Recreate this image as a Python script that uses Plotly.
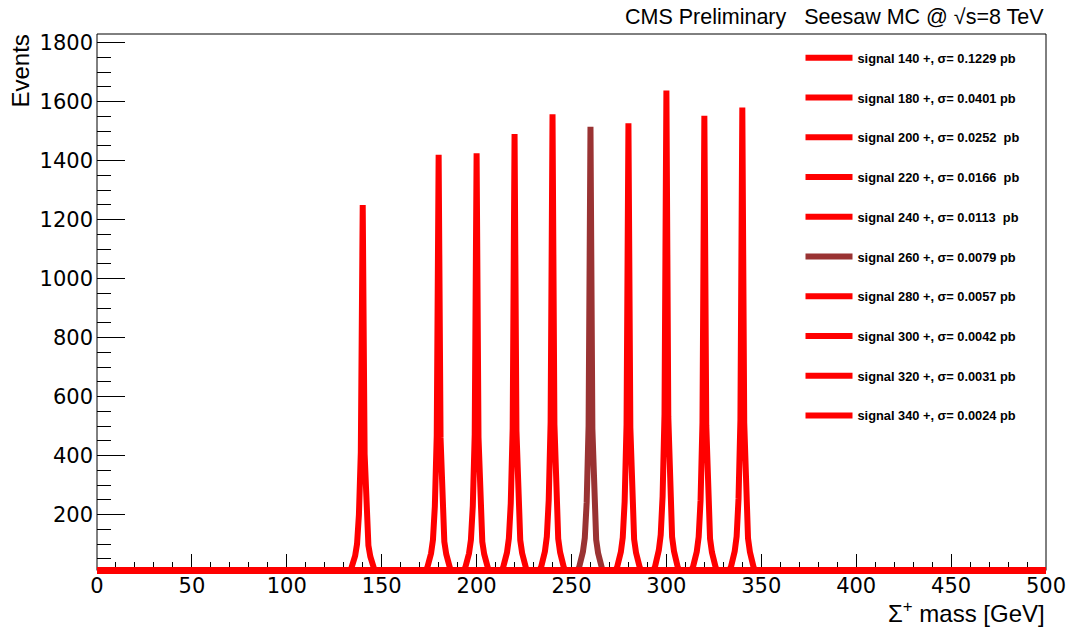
import numpy as np
import plotly.graph_objects as go

# ---------------- data ----------------
MASSES = [140, 180, 200, 220, 240, 260, 280, 300, 320, 340]
LABELS = [
    "signal 140 +, σ= 0.1229 pb",
    "signal 180 +, σ= 0.0401 pb",
    "signal 200 +, σ= 0.0252\u00a0 pb",
    "signal 220 +, σ= 0.0166\u00a0 pb",
    "signal 240 +, σ= 0.0113\u00a0 pb",
    "signal 260 +, σ= 0.0079 pb",
    "signal 280 +, σ= 0.0057 pb",
    "signal 300 +, σ= 0.0042 pb",
    "signal 320 +, σ= 0.0031 pb",
    "signal 340 +, σ= 0.0024 pb",
]
COLORS = ["#ff0000", "#ff0000", "#ff0000", "#ff0000", "#ff0000",
          "#9a3333", "#ff0000", "#ff0000", "#ff0000", "#ff0000"]
# bin offsets (GeV) around each mass point; contents are zero elsewhere
OFFSETS = [-6, -5, -4, -3, -2, -1, 0, 1, 2, 3, 4, 5, 6]
S140 = [18, 35, 60, 100, 200, 412, 1250, 405, 195, 95, 58, 33, 16]
S180 = [20, 40, 68, 114, 228, 468, 1420, 460, 222, 108, 66, 37, 18]
S200 = [20, 40, 68, 114, 229, 470, 1425, 462, 222, 108, 66, 38, 18]
S220 = [21, 42, 71, 119, 238, 492, 1490, 483, 233, 113, 69, 39, 19]
S240 = [22, 44, 75, 125, 249, 514, 1557, 505, 243, 118, 72, 41, 20]
S260 = [21, 42, 73, 121, 242, 500, 1515, 491, 236, 115, 70, 40, 19]
S280 = [21, 43, 73, 122, 244, 504, 1527, 495, 238, 116, 71, 40, 20]
S300 = [23, 46, 79, 131, 262, 540, 1638, 531, 255, 124, 76, 43, 21]
S320 = [22, 43, 74, 124, 248, 512, 1552, 503, 242, 118, 72, 41, 20]
S340 = [22, 44, 76, 126, 253, 521, 1580, 512, 246, 120, 73, 42, 20]
SERIES = [S140, S180, S200, S220, S240, S260, S280, S300, S320, S340]

X_MIN, X_MAX = 0, 500
Y_TICKS = [200, 400, 600, 800, 1000, 1200, 1400, 1600, 1800]
X_TICKS = [0, 50, 100, 150, 200, 250, 300, 350, 400, 450, 500]

# ---------------- layout geometry ----------------
W, H = 1071, 630
ML, MR, MT, MB = 97, 25, 34, 55.5
FRAME_MIN = 10.4   # histogram minimum (frame bottom)
Y_HI = 1829.5
Y_LO = -1.5
FONT = "Liberation Sans, Arial, Helvetica, sans-serif"
TICK_FONT = "DejaVu Sans, Liberation Sans, sans-serif"

pw = W - ML - MR
ph = H - MT - MB


def px_to_paper_x(px):
    return (px - ML) / pw


def px_to_paper_y(py):
    return (H - MB - py) / ph


fig = go.Figure()

bins = np.arange(X_MIN, X_MAX + 1, 1.0)
for m, lab, col, vals in zip(MASSES, LABELS, COLORS, SERIES):
    y = np.zeros_like(bins)
    for o, v in zip(OFFSETS, vals):
        y[int(m + o - X_MIN)] = v
    y_draw = np.maximum(y, FRAME_MIN)  # drawn at histogram minimum like ROOT
    fig.add_trace(go.Scatter(
        x=bins, y=y_draw, mode="lines", name=lab,
        line=dict(color=col, width=6),
        legendgroup=str(m), hoverinfo="skip",
    ))

fig.update_layout(
    width=W, height=H, autosize=False,
    margin=dict(l=ML, r=MR, t=MT, b=MB, pad=0, autoexpand=False),
    paper_bgcolor="white", plot_bgcolor="white",
    font=dict(family=FONT, color="black"),
    showlegend=True,
    legend=dict(
        x=px_to_paper_x(800.5), y=px_to_paper_y(43), xanchor="left", yanchor="top",
        bgcolor="rgba(0,0,0,0)", borderwidth=0,
        font=dict(family=FONT, size=12.8, color="black", weight="bold"),
        tracegroupgap=20.1, itemwidth=47,
    ),
    xaxis=dict(
        range=[X_MIN, X_MAX], tickmode="array", tickvals=X_TICKS,
        ticks="inside", ticklen=20, tickwidth=1, tickcolor="black",
        minor=dict(dtick=10, tick0=0, ticks="inside", ticklen=12,
                   tickwidth=1, tickcolor="black"),
        showgrid=False, zeroline=False, showline=False, automargin=False,
        tickfont=dict(family=TICK_FONT, size=21, color="black"),
        ticklabelstandoff=-3,
        layer="below traces",
    ),
    yaxis=dict(
        range=[Y_LO, Y_HI], tickmode="array", tickvals=Y_TICKS,
        ticks="inside", ticklen=28, tickwidth=1, tickcolor="black",
        minor=dict(dtick=50, tick0=0, ticks="inside", ticklen=14,
                   tickwidth=1, tickcolor="black"),
        showgrid=False, zeroline=False, showline=False, automargin=False,
        tickfont=dict(family=TICK_FONT, size=21, color="black"),
        ticklabelstandoff=3,
        layer="below traces",
    ),
    shapes=[dict(
        type="rect", xref="paper", yref="paper",
        x0=0, x1=1, y0=(FRAME_MIN - Y_LO) / (Y_HI - Y_LO), y1=1,
        line=dict(color="black", width=1), layer="below",
    )],
    annotations=[
        dict(text="CMS Preliminary\u00a0\u00a0\u00a0Seesaw MC @ √s=8 TeV",
             xref="paper", yref="paper", x=px_to_paper_x(1045.5), y=px_to_paper_y(17),
             xanchor="right", yanchor="middle", showarrow=False,
             font=dict(family=FONT, size=21.5, color="black")),
        dict(text="Events", textangle=-90,
             xref="paper", yref="paper", x=px_to_paper_x(21), y=px_to_paper_y(33),
             xanchor="center", yanchor="top", showarrow=False,
             font=dict(family=FONT, size=24, color="black")),
        dict(text="Σ<sup>+</sup> mass [GeV]",
             xref="paper", yref="paper", x=px_to_paper_x(1047), y=px_to_paper_y(613),
             xanchor="right", yanchor="middle", showarrow=False,
             font=dict(family=FONT, size=24, color="black")),
    ],
)

fig.write_html("out.html")
